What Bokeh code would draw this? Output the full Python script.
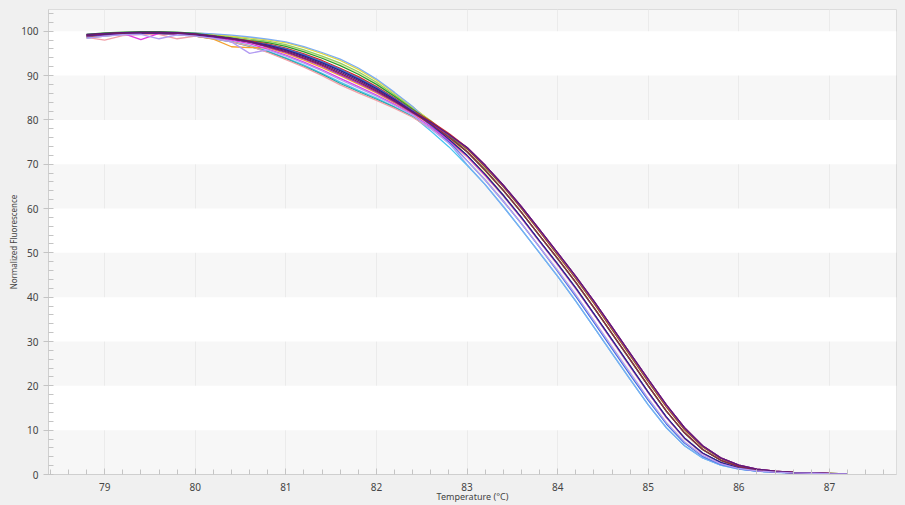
from bokeh.plotting import figure
from bokeh.models import Range1d, SingleIntervalTicker
from bokeh.embed import file_html
from bokeh.resources import INLINE

# ---------------- data ----------------
temperature = [78.8, 79.0, 79.2, 79.4, 79.6, 79.8, 80.0, 80.2, 80.4, 80.6, 80.8,
               81.0, 81.2, 81.4, 81.6, 81.8, 82.0, 82.2, 82.4, 82.6, 82.8,
               83.0, 83.2, 83.4, 83.6, 83.8, 84.0, 84.2, 84.4, 84.6, 84.8,
               85.0, 85.2, 85.4, 85.6, 85.8, 86.0, 86.2, 86.4, 86.6, 86.8,
               87.0, 87.2]

x_tick_labels = ["79", "80", "81", "82", "83", "84", "85", "86", "87"]
y_tick_labels = ["0", "10", "20", "30", "40", "50", "60", "70", "80", "90", "100"]

curve_pale = [99.1, 99.3, 99.5, 99.6, 99.6, 99.5, 99.3, 98.9, 98.5, 97.9,
              97.6, 96.8, 95.6, 94.15, 92.55, 90.6, 88.25, 85.5, 82.5, 79.1, 75.25,
              70.8, 66.6, 61.8, 56.7, 51.4, 46.1, 40.6, 34.8, 28.9, 23.0, 17.2, 11.8, 7.4, 4.35, 2.42, 1.36, 0.81, 0.55, 0.38, 0.28, 0.19, 0.15]
curve_lightgreen = [98.9, 99.3, 99.5, 99.6, 99.7, 99.7, 99.5, 99.2, 98.8, 98.2,
                    97.75, 97.0, 95.8, 94.4, 92.8, 90.85, 88.5, 85.65, 82.65, 79.8, 76.5,
                    72.8, 68.7, 64.1, 59.15, 53.9, 48.7, 43.35, 37.65, 31.8, 25.9, 20.0, 14.3, 9.4, 5.65, 3.2, 1.8, 1.05, 0.68, 0.45, 0.33, 0.22, 0.16]
curve_yellow = [98.7, 99.1, 99.4, 99.6, 99.7, 99.7, 99.6, 99.3, 98.9, 98.5,
                98.05, 97.4, 96.3, 94.95, 93.4, 91.4, 88.95, 86.0, 82.9, 79.7, 76.05,
                71.9, 67.8, 63.0, 57.9, 52.6, 47.4, 42.0, 36.2, 30.3, 24.4, 18.5, 12.9, 8.2, 4.8, 2.7, 1.5, 0.9, 0.6, 0.4, 0.3, 0.2, 0.15]
curve_cyan = [99.2, 99.4, 99.5, 99.5, 99.4, 99.2, 98.9, 98.4, 97.7, 96.8,
              95.5, 94.0, 92.35, 90.5, 88.5, 86.65, 84.9, 82.95, 80.85, 77.5, 73.9,
              69.75, 65.4, 60.5, 55.3, 50.0, 44.7, 39.1, 33.25, 27.35, 21.45, 15.7, 10.55, 6.5, 3.75, 2.1, 1.2, 0.75, 0.5, 0.35, 0.25, 0.18, 0.14]
curve_teal = [99.2, 99.4, 99.6, 99.6, 99.5, 99.3, 98.9, 98.3, 97.6, 96.6,
              95.35, 93.8, 92.1, 90.25, 88.2, 86.4, 84.65, 82.8, 80.7, 78.1, 75.15,
              71.9, 67.5, 62.9, 57.9, 52.6, 47.4, 42.0, 36.2, 30.3, 24.4, 18.5, 12.9, 8.2, 4.8, 2.7, 1.5, 0.9, 0.6, 0.4, 0.3, 0.2, 0.15]
curve_pink = [98.6, 98.0, 99.0, 99.3, 99.3, 98.3, 98.9, 98.4, 97.6, 96.7,
              95.2, 93.6, 91.9, 90.0, 87.9, 86.1, 84.4, 82.6, 80.6, 78.0, 75.1,
              71.6, 67.4, 62.8, 57.8, 52.5, 47.3, 41.9, 36.1, 30.2, 24.3, 18.4, 12.8, 8.1, 4.75, 2.65, 1.48, 0.9, 0.6, 0.4, 0.3, 0.2, 0.15]
curve_orange = [98.5, 98.9, 99.3, 99.5, 99.5, 99.3, 98.9, 98.2, 96.5, 96.3,
                96.25, 95.0, 93.5, 91.8, 89.95, 88.05, 86.1, 83.85, 81.45, 78.9, 76.0,
                72.8, 68.5, 64.1, 59.15, 53.9, 48.7, 43.35, 37.65, 31.8, 25.9, 20.0, 14.3, 9.4, 5.65, 3.2, 1.8, 1.05, 0.68, 0.45, 0.33, 0.22, 0.16]
curve_lightblue = [98.5, 98.9, 99.3, 99.5, 99.6, 99.7, 99.6, 99.4, 99.1, 98.7,
                   98.2, 97.6, 96.5, 95.2, 93.7, 91.7, 89.2, 86.2, 83.0, 79.15, 74.8,
                   69.9, 65.4, 60.4, 55.25, 50.0, 44.7, 39.1, 33.25, 27.35, 21.45, 15.7, 10.55, 6.5, 3.75, 2.1, 1.2, 0.75, 0.5, 0.35, 0.25, 0.18, 0.14]
curve_green = [99.3, 99.6, 99.8, 99.9, 99.9, 99.8, 99.5, 99.0, 98.5, 97.9,
               97.45, 96.6, 95.35, 93.9, 92.25, 90.3, 88.0, 85.3, 82.4, 79.6, 76.4,
               72.8, 68.7, 64.1, 59.15, 53.9, 48.7, 43.35, 37.65, 31.8, 25.9, 20.0, 14.3, 9.4, 5.65, 3.2, 1.8, 1.05, 0.68, 0.45, 0.33, 0.22, 0.16]
curve_red = [99.1, 99.4, 99.6, 99.7, 99.7, 99.6, 99.3, 98.9, 98.4, 97.8,
             97.15, 96.2, 94.9, 93.4, 91.65, 89.75, 87.5, 84.95, 82.15, 79.7, 76.9,
             73.75, 69.75, 65.25, 60.4, 55.25, 50.0, 44.7, 39.1, 33.25, 27.35, 21.45, 15.7, 10.55, 6.5, 3.75, 2.1, 1.2, 0.75, 0.5, 0.35, 0.25, 0.18]
curve_brown = [98.8, 99.1, 99.4, 99.5, 99.5, 99.4, 99.2, 98.8, 98.3, 97.7,
               97.0, 96.0, 94.65, 93.1, 91.4, 89.45, 87.3, 84.75, 82.05, 79.5, 76.6,
               73.4, 69.3, 64.9, 60.0, 54.8, 49.5, 44.2, 38.6, 32.7, 26.8, 20.9, 15.2, 10.1, 6.2, 3.55, 2.0, 1.15, 0.72, 0.48, 0.34, 0.24, 0.17]
curve_blue = [99.0, 99.2, 99.4, 99.5, 99.5, 99.4, 99.1, 98.7, 98.2, 97.6,
              97.0, 96.0, 94.65, 93.1, 91.4, 89.45, 87.3, 84.75, 82.05, 78.75, 75.05,
              70.8, 66.4, 61.65, 56.6, 51.3, 45.8, 40.2, 34.3, 28.4, 22.5, 16.7, 11.4, 7.1, 4.1, 2.3, 1.3, 0.78, 0.53, 0.37, 0.27, 0.19, 0.15]
curve_magenta = [99.0, 99.3, 99.5, 98.1, 99.5, 99.4, 99.1, 98.6, 98.0, 97.2,
                 95.95, 94.6, 93.05, 91.3, 89.35, 87.5, 85.6, 83.5, 81.2, 78.45, 75.35,
                 71.9, 67.5, 62.9, 57.9, 52.6, 47.4, 42.0, 36.2, 30.3, 24.4, 18.5, 12.9, 8.2, 4.8, 2.7, 1.5, 0.9, 0.6, 0.4, 0.3, 0.2, 0.15]
curve_purple = [98.9, 99.2, 99.4, 99.5, 99.5, 99.4, 99.1, 98.7, 98.2, 97.5,
                96.4, 95.2, 93.75, 92.1, 90.2, 88.35, 86.3, 84.05, 81.55, 79.3, 76.6,
                73.75, 69.75, 65.25, 60.4, 55.25, 50.0, 44.7, 39.1, 33.25, 27.35, 21.45, 15.7, 10.55, 6.5, 3.75, 2.1, 1.2, 0.75, 0.5, 0.35, 0.25, 0.18]
curve_navy = [99.0, 99.3, 99.5, 99.6, 99.6, 99.5, 99.2, 98.8, 98.3, 97.6,
              96.85, 95.8, 94.45, 92.85, 91.1, 89.2, 87.05, 84.6, 81.9, 79.0, 75.65,
              72.0, 67.7, 63.0, 58.0, 52.7, 47.5, 42.1, 36.3, 30.4, 24.5, 18.6, 13.0, 8.25, 4.85, 2.72, 1.52, 0.91, 0.6, 0.4, 0.3, 0.2, 0.15]
curve_maroon = [99.1, 99.4, 99.6, 99.7, 99.7, 99.6, 99.3, 98.9, 98.3, 97.6,
                96.55, 95.4, 93.95, 92.35, 90.5, 88.6, 86.55, 84.2, 81.7, 79.1, 76.1,
                72.8, 68.6, 64.1, 59.15, 53.9, 48.7, 43.35, 37.65, 31.8, 25.9, 20.0, 14.3, 9.4, 5.65, 3.2, 1.8, 1.05, 0.68, 0.45, 0.33, 0.22, 0.16]
curve_darkpurple = [99.3, 99.5, 99.7, 99.8, 99.8, 99.7, 99.4, 98.9, 98.4, 97.7,
                    96.7, 95.6, 94.2, 92.6, 90.8, 88.9, 86.8, 84.4, 81.8, 79.45, 76.7,
                    73.75, 69.75, 65.25, 60.4, 55.25, 50.0, 44.7, 39.1, 33.25, 27.35, 21.45, 15.7, 10.55, 6.5, 3.75, 2.1, 1.2, 0.75, 0.5, 0.35, 0.25, 0.18]
curve_lavender = [98.4, 98.9, 99.2, 99.3, 98.3, 99.2, 98.9, 98.4, 97.6, 95.0,
                  95.8, 94.4, 92.8, 91.05, 89.05, 87.2, 85.35, 83.3, 81.1, 78.0, 74.65,
                  70.8, 66.4, 61.65, 56.6, 51.3, 46.05, 40.55, 34.7, 28.8, 22.9, 17.1, 11.7, 7.35, 4.3, 2.4, 1.35, 0.8, 0.55, 0.38, 0.28, 0.19, 0.15]

series = [
    (curve_pale, "#efe9bf"),
    (curve_lightgreen, "#8fcf5f"),
    (curve_yellow, "#e6da3a"),
    (curve_cyan, "#4cc6f0"),
    (curve_teal, "#22aaa0"),
    (curve_pink, "#f2a0a8"),
    (curve_orange, "#f5a030"),
    (curve_lightblue, "#7cacf2"),
    (curve_green, "#2c9e2c"),
    (curve_red, "#d42a2a"),
    (curve_brown, "#a0522d"),
    (curve_blue, "#3b6fe0"),
    (curve_magenta, "#e03ce0"),
    (curve_purple, "#9b30c0"),
    (curve_navy, "#26268c"),
    (curve_maroon, "#8c1f4f"),
    (curve_darkpurple, "#5b1a7a"),
    (curve_lavender, "#b39cf2"),
]
for ys, _ in series:
    assert len(ys) == len(temperature)

# ---------------- figure ----------------
p = figure(width=905, height=505, output_backend="svg", toolbar_location=None,
           x_range=Range1d(78.38, 87.74), y_range=Range1d(0, 104.9),
           min_border_left=48, min_border_right=9, min_border_top=9, min_border_bottom=29)

p.background_fill_color = "#f7f7f7"
p.border_fill_color = "#f0f0f0"
p.outline_line_color = "#dcdcdc"

p.xaxis.ticker = SingleIntervalTicker(interval=1, num_minor_ticks=5)
p.yaxis.ticker = SingleIntervalTicker(interval=10, num_minor_ticks=5)
p.xaxis.major_label_overrides = {float(t): t for t in x_tick_labels}
p.yaxis.major_label_overrides = {float(t): t for t in y_tick_labels}

p.ygrid.grid_line_color = None
p.ygrid.band_fill_color = "#ffffff"
p.ygrid.band_fill_alpha = 1.0
p.xgrid.grid_line_color = "#ebebeb"
p.xgrid.grid_line_width = 1

for ax in (p.xaxis, p.yaxis):
    ax.axis_line_color = "#cfcfcf"
    ax.major_tick_line_color = "#c4c4c4"
    ax.minor_tick_line_color = "#c4c4c4"
    ax.major_label_text_font = "Noto Sans"
    ax.major_label_text_font_size = "10px"
    ax.major_label_text_color = "#444444"
    ax.axis_label_text_font = "Noto Sans"
    ax.axis_label_text_font_style = "normal"
    ax.axis_label_text_color = "#444444"

p.yaxis.major_tick_in = 2
p.yaxis.major_tick_out = 5
p.yaxis.minor_tick_in = 5
p.yaxis.minor_tick_out = 0
p.yaxis.major_label_standoff = 5
p.yaxis.axis_label = "Normalized Fluorescence"
p.yaxis.axis_label_text_font_size = "8px"
p.yaxis.axis_label_standoff = -1

p.xaxis.major_tick_in = 6
p.xaxis.major_tick_out = 0
p.xaxis.minor_tick_in = 5
p.xaxis.minor_tick_out = 0
p.xaxis.major_label_standoff = 8
p.xaxis.axis_label = "Temperature (°C)"
p.xaxis.axis_label_text_font_size = "9px"
p.xaxis.axis_label_standoff = -4

for ys, color in series:
    p.line(temperature, ys, line_color=color, line_width=1.3)

html = file_html(p, INLINE, title="Melt curve")
html = html.replace("</head>", "<style>html, body { background: #f0f0f0; }</style></head>", 1)
open("out.html", "w").write(html)
